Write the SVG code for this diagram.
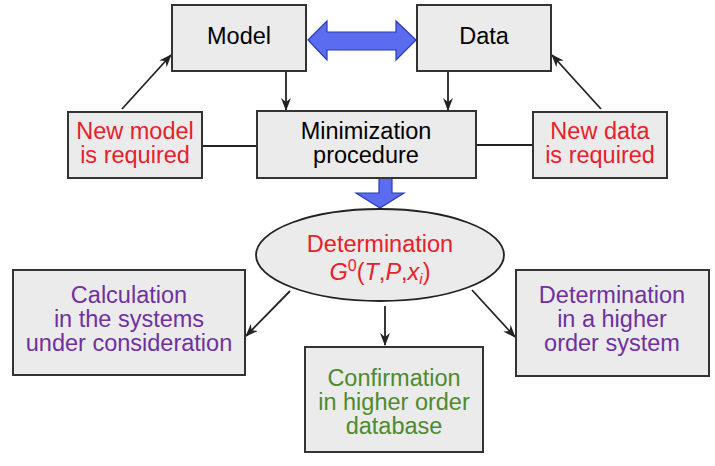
<svg xmlns="http://www.w3.org/2000/svg" width="715" height="466" viewBox="0 0 715 466">
<style>
.box{fill:#ebebeb;stroke:#333;stroke-width:2}
.t{font-family:"Liberation Sans",Arial,sans-serif;font-size:23.5px;text-anchor:middle}
.k{fill:#000}
.r{fill:#e8202a}
.p{fill:#7030a0}
.g{fill:#4e8a2e}
.ln{stroke:#222;stroke-width:1.8;fill:none}
.big{fill:#5b6cf0;stroke:#2a3bb0;stroke-width:1.2}
</style>
<defs>
<marker id="ah" viewBox="0 0 13 10" refX="12" refY="5" markerWidth="13" markerHeight="10" orient="auto" markerUnits="userSpaceOnUse">
<path d="M0,0 L13,5 L0,10 L4,5 Z" fill="#222"/>
</marker>
</defs>
<rect width="715" height="466" fill="#fff"/>
<g id="connectors">
<line class="ln" x1="286" y1="71" x2="286" y2="110" marker-end="url(#ah)"/>
<line class="ln" x1="448" y1="71" x2="448" y2="110" marker-end="url(#ah)"/>
<line class="ln" x1="122" y1="109" x2="171" y2="55" marker-end="url(#ah)"/>
<line class="ln" x1="601" y1="109" x2="552" y2="55" marker-end="url(#ah)"/>
<line class="ln" x1="202" y1="146" x2="257" y2="146"/>
<line class="ln" x1="476" y1="145" x2="533" y2="145"/>
<line class="ln" x1="290" y1="291" x2="246" y2="336" marker-end="url(#ah)"/>
<line class="ln" x1="385" y1="306" x2="385" y2="345" marker-end="url(#ah)"/>
<line class="ln" x1="472" y1="290" x2="515" y2="337" marker-end="url(#ah)"/>
<path class="big" d="M308,40 L327,21 L327,32 L396,32 L396,21 L416,40 L396,60 L396,50 L327,50 L327,60 Z"/>
<path class="big" d="M379,178 L392,178 L392,193 L404,193 L380,208 L356,193 L379,193 Z"/>
</g>
<g id="model"><rect class="box" x="172" y="5" width="134" height="66"/><text class="t k" x="239" y="44">Model</text></g>
<g id="data"><rect class="box" x="417" y="5" width="134" height="66"/><text class="t k" x="484" y="44">Data</text></g>
<g id="minimization"><rect class="box" x="257" y="111" width="219" height="67"/><text class="t k" x="366" y="139">Minimization</text><text class="t k" x="366" y="163">procedure</text></g>
<g id="newmodel"><rect class="box" x="68" y="112" width="134" height="66"/><text class="t r" x="135" y="139">New model</text><text class="t r" x="135" y="163">is required</text></g>
<g id="newdata"><rect class="box" x="533" y="112" width="134" height="66"/><text class="t r" x="600" y="139">New data</text><text class="t r" x="600" y="163">is required</text></g>
<g id="determination"><ellipse cx="380" cy="255" rx="124" ry="46" fill="#ebebeb" stroke="#222" stroke-width="1.8"/>
<text class="t r" x="380" y="252">Determination</text>
<text class="t r" x="380" y="280"><tspan font-style="italic">G</tspan><tspan dy="-9" font-size="16">0</tspan><tspan dy="9">(</tspan><tspan font-style="italic">T</tspan>,<tspan font-style="italic">P</tspan>,<tspan font-style="italic">x</tspan><tspan font-style="italic" font-size="15" dy="4">i</tspan><tspan dy="-4">)</tspan></text></g>
<g id="calculation"><rect class="box" x="13" y="270" width="232" height="105"/><text class="t p" x="129" y="303">Calculation</text><text class="t p" x="129" y="327">in the systems</text><text class="t p" x="129" y="351">under consideration</text></g>
<g id="confirmation"><rect class="box" x="305" y="347" width="178" height="105"/><text class="t g" x="394" y="386">Confirmation</text><text class="t g" x="394" y="410">in higher order</text><text class="t g" x="394" y="434">database</text></g>
<g id="higher"><rect class="box" x="516" y="270" width="193" height="106"/><text class="t p" x="612" y="303">Determination</text><text class="t p" x="612" y="327">in a higher</text><text class="t p" x="612" y="351">order system</text></g>
</svg>
